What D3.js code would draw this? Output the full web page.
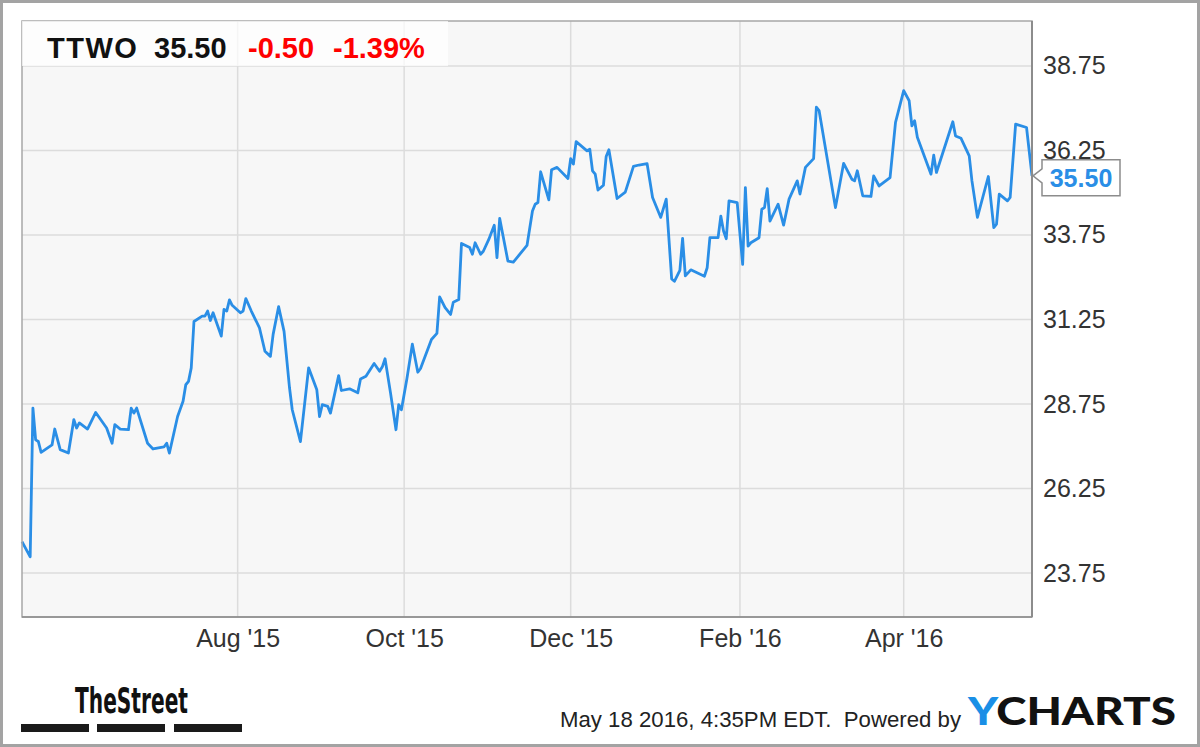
<!DOCTYPE html>
<html>
<head>
<meta charset="utf-8">
<script src="https://cdn.jsdelivr.net/npm/d3@7"></script>
<style>
  body { margin: 0; background: #fff; }
  svg { display: block; font-family: "Liberation Sans", Arial, sans-serif; }
</style>
</head>
<body>
<div id="chart"></div>
<script>
// Quote header
const ticker = "TTWO";
const lastPrice = 35.50;
const change = -0.50;
const changePct = -1.39;
const stamp = "May 18 2016, 4:35PM EDT.";

// Daily closes (turning points of the line)
const dates = [
    "2015-05-14", "2015-05-17", "2015-05-18", "2015-05-19", "2015-05-20", "2015-05-21", "2015-05-25", "2015-05-26",
    "2015-05-28", "2015-05-31", "2015-06-02", "2015-06-03", "2015-06-04", "2015-06-07", "2015-06-10", "2015-06-14",
    "2015-06-16", "2015-06-17", "2015-06-19", "2015-06-22", "2015-06-23", "2015-06-24", "2015-06-25", "2015-06-29",
    "2015-07-01", "2015-07-05", "2015-07-06", "2015-07-07", "2015-07-10", "2015-07-12", "2015-07-13", "2015-07-14",
    "2015-07-15", "2015-07-16", "2015-07-19", "2015-07-20", "2015-07-21", "2015-07-22", "2015-07-23", "2015-07-26",
    "2015-07-27", "2015-07-28", "2015-07-29", "2015-07-30", "2015-08-02", "2015-08-03", "2015-08-04", "2015-08-06",
    "2015-08-09", "2015-08-11", "2015-08-13", "2015-08-14", "2015-08-16", "2015-08-18", "2015-08-20", "2015-08-21",
    "2015-08-24", "2015-08-27", "2015-08-30", "2015-08-31", "2015-09-01", "2015-09-03", "2015-09-04", "2015-09-07",
    "2015-09-08", "2015-09-11", "2015-09-14", "2015-09-15", "2015-09-17", "2015-09-20", "2015-09-22", "2015-09-23",
    "2015-09-24", "2015-09-26", "2015-09-28", "2015-09-29", "2015-09-30", "2015-10-02", "2015-10-04", "2015-10-06",
    "2015-10-07", "2015-10-11", "2015-10-13", "2015-10-14", "2015-10-16", "2015-10-18", "2015-10-19", "2015-10-21",
    "2015-10-22", "2015-10-25", "2015-10-26", "2015-10-27", "2015-10-29", "2015-10-30", "2015-11-01", "2015-11-03",
    "2015-11-04", "2015-11-05", "2015-11-08", "2015-11-10", "2015-11-15", "2015-11-17", "2015-11-18", "2015-11-19",
    "2015-11-20", "2015-11-23", "2015-11-24", "2015-11-26", "2015-11-30", "2015-12-01", "2015-12-02", "2015-12-03",
    "2015-12-07", "2015-12-08", "2015-12-09", "2015-12-10", "2015-12-11", "2015-12-13", "2015-12-14", "2015-12-15",
    "2015-12-18", "2015-12-21", "2015-12-24", "2015-12-26", "2015-12-29", "2015-12-31", "2016-01-03", "2016-01-05",
    "2016-01-07", "2016-01-08", "2016-01-10", "2016-01-11", "2016-01-12", "2016-01-14", "2016-01-19", "2016-01-20",
    "2016-01-21", "2016-01-24", "2016-01-25", "2016-01-26", "2016-01-27", "2016-01-28", "2016-01-31", "2016-02-02",
    "2016-02-03", "2016-02-04", "2016-02-05", "2016-02-08", "2016-02-09", "2016-02-10", "2016-02-11", "2016-02-12",
    "2016-02-15", "2016-02-17", "2016-02-19", "2016-02-22", "2016-02-23", "2016-02-25", "2016-02-28", "2016-02-29",
    "2016-03-01", "2016-03-07", "2016-03-10", "2016-03-13", "2016-03-14", "2016-03-15", "2016-03-17", "2016-03-20",
    "2016-03-21", "2016-03-23", "2016-03-27", "2016-03-29", "2016-04-01", "2016-04-03", "2016-04-04", "2016-04-05",
    "2016-04-06", "2016-04-11", "2016-04-12", "2016-04-13", "2016-04-19", "2016-04-20", "2016-04-22", "2016-04-25",
    "2016-04-26", "2016-04-28", "2016-05-02", "2016-05-04", "2016-05-05", "2016-05-06", "2016-05-09", "2016-05-10",
    "2016-05-12", "2016-05-16", "2016-05-18"
];
const prices = [
    24.68, 24.23, 28.63, 27.69, 27.64, 27.32, 27.54, 28.01,
    27.40, 27.30, 28.29, 28.04, 28.19, 28.01, 28.50, 28.04,
    27.59, 28.14, 28.01, 27.99, 28.63, 28.48, 28.63, 27.59,
    27.42, 27.48, 27.59, 27.30, 28.38, 28.83, 29.32, 29.42,
    29.82, 31.19, 31.35, 31.35, 31.50, 31.22, 31.45, 30.76,
    31.55, 31.50, 31.83, 31.67, 31.45, 31.50, 31.87, 31.50,
    31.00, 30.31, 30.16, 30.81, 31.63, 30.90, 29.23, 28.58,
    27.64, 29.82, 29.17, 28.38, 28.73, 28.68, 28.48, 29.59,
    29.15, 29.20, 29.08, 29.49, 29.57, 29.95, 29.72, 29.85,
    30.09, 29.08, 27.99, 28.73, 28.58, 29.50, 30.52, 29.69,
    29.80, 30.66, 30.84, 31.92, 31.60, 31.40, 31.76, 31.84,
    33.50, 33.38, 33.18, 33.52, 33.18, 33.27, 33.62, 34.04,
    33.08, 34.24, 32.98, 32.95, 33.44, 34.46, 34.66, 34.71,
    35.62, 34.79, 35.68, 35.75, 35.42, 36.01, 35.85, 36.51,
    36.24, 36.29, 35.65, 35.55, 35.08, 35.22, 36.07, 36.27,
    34.83, 35.02, 35.78, 35.82, 35.86, 34.86, 34.27, 34.81,
    32.45, 32.38, 32.70, 33.65, 32.54, 32.72, 32.53, 32.78,
    33.67, 33.67, 34.31, 33.87, 33.64, 34.76, 34.71, 32.88,
    35.15, 33.42, 33.52, 33.67, 34.51, 34.56, 35.12, 34.16,
    34.66, 34.04, 34.81, 35.35, 34.96, 35.75, 36.01, 37.53,
    37.43, 34.56, 35.87, 35.40, 35.35, 35.65, 34.91, 34.89,
    35.50, 35.20, 35.45, 37.08, 38.02, 37.72, 36.98, 37.13,
    36.64, 35.55, 36.11, 35.60, 37.10, 36.68, 36.61, 36.09,
    35.35, 34.27, 35.48, 33.97, 34.07, 34.96, 34.76, 34.86,
    37.03, 36.93, 35.50
];

// Axis ticks
const yTicks = [23.75, 26.25, 28.75, 31.25, 33.75, 36.25, 38.75];
const xTicks = ["2015-08-01", "2015-10-01", "2015-12-01", "2016-02-01", "2016-04-01"];
const xDomain = ["2015-05-14", "2016-05-18"];
const yDomain = [22.45, 40.08];

const parseDate = d3.timeParse("%Y-%m-%d");
const data = dates.map((d, i) => ({date: parseDate(d), price: prices[i]}));

const fullW = 1200, fullH = 747;
const margin = {top: 21, right: 168, bottom: 130, left: 22},
      width = fullW - margin.left - margin.right,
      height = fullH - margin.top - margin.bottom;

const root = d3.select("#chart")
    .append("svg")
    .attr("width", fullW)
    .attr("height", fullH);

// Outer frame
root.append("rect")
    .attr("x", 1.5).attr("y", 1.5)
    .attr("width", fullW - 3).attr("height", fullH - 3)
    .attr("fill", "#fff")
    .attr("stroke", "#a3a3a3").attr("stroke-width", 3);

const svg = root.append("g")
    .attr("transform", `translate(${margin.left},${margin.top})`);

const x = d3.scaleTime()
    .domain(xDomain.map(parseDate))
    .range([0, width]);

const y = d3.scaleLinear()
    .domain(yDomain)
    .range([height, 0]);

// Plot background
svg.append("rect")
    .attr("width", width).attr("height", height)
    .attr("fill", "#f7f7f7");

// Grid lines
svg.selectAll(".hgrid")
    .data(yTicks)
    .enter()
    .append("line")
    .attr("x1", 0).attr("x2", width)
    .attr("y1", d => y(d)).attr("y2", d => y(d))
    .attr("stroke", "#dcdcdc").attr("stroke-width", 1.5);

svg.selectAll(".vgrid")
    .data(xTicks.map(parseDate))
    .enter()
    .append("line")
    .attr("x1", d => x(d)).attr("x2", d => x(d))
    .attr("y1", 0).attr("y2", height)
    .attr("stroke", "#dcdcdc").attr("stroke-width", 1.5);

// Price line
const line = d3.line()
    .x(d => x(d.date))
    .y(d => y(d.price));

svg.append("path")
    .datum(data)
    .attr("fill", "none")
    .attr("stroke", "#2a8ee6")
    .attr("stroke-width", 2.8)
    .attr("stroke-linejoin", "round")
    .attr("d", line);

// Plot border (left, top, bottom) and right axis
svg.append("rect")
    .attr("width", width).attr("height", height)
    .attr("fill", "none")
    .attr("stroke", "#a8a8a8").attr("stroke-width", 1.5);

svg.append("line")
    .attr("x1", width).attr("x2", width)
    .attr("y1", 0).attr("y2", height)
    .attr("stroke", "#8c8c8c").attr("stroke-width", 2);

svg.append("line")
    .attr("x1", 0).attr("x2", width)
    .attr("y1", height).attr("y2", height)
    .attr("stroke", "#8c8c8c").attr("stroke-width", 1.5);

// Axes
const yAxis = svg.append("g")
    .attr("transform", `translate(${width},0)`)
    .call(d3.axisRight(y).tickValues(yTicks).tickSize(0).tickPadding(11).tickFormat(d3.format(".2f")));
yAxis.select(".domain").remove();
yAxis.selectAll("text")
    .attr("fill", "#333")
    .style("font-size", "25px")
    .style("font-family", "'Liberation Sans', Arial, sans-serif");

const xAxis = svg.append("g")
    .attr("transform", `translate(0,${height})`)
    .call(d3.axisBottom(x).tickValues(xTicks.map(parseDate)).tickSize(0).tickPadding(12)
        .tickFormat(d3.timeFormat("%b '%y")));
xAxis.select(".domain").remove();
xAxis.selectAll("text")
    .attr("fill", "#333")
    .style("font-size", "25px")
    .style("font-family", "'Liberation Sans', Arial, sans-serif");

// Header with last quote
svg.append("rect")
    .attr("x", 0).attr("y", 0)
    .attr("width", 426).attr("height", 45)
    .attr("fill", "#fff").attr("fill-opacity", 0.72);

const header = [
    {text: ticker, x: 25, color: "#111", spacing: 1.5},
    {text: lastPrice.toFixed(2), x: 132, color: "#111", spacing: 0},
    {text: change.toFixed(2), x: 226, color: "#f00", spacing: 0},
    {text: changePct.toFixed(2) + "%", x: 311, color: "#f00", spacing: 0}
];
svg.selectAll(".hdr")
    .data(header)
    .enter()
    .append("text")
    .attr("x", d => d.x).attr("y", 37)
    .attr("fill", d => d.color)
    .style("font-size", "29px")
    .style("font-weight", "bold")
    .style("letter-spacing", d => d.spacing + "px")
    .text(d => d.text);

// Last value callout
const last = data[data.length - 1],
      lx = x(last.date), ly = y(last.price),
      bx = lx + 10, bw = 78, bh = 36, by = ly - 16;
svg.append("path")
    .attr("d", `M${lx + 1},${ly} L${bx},${ly - 7} L${bx},${by} L${bx + bw},${by} L${bx + bw},${by + bh} L${bx},${by + bh} L${bx},${ly + 7} Z`)
    .attr("fill", "#fff")
    .attr("stroke", "#8c8c8c").attr("stroke-width", 1.5);
svg.append("text")
    .attr("x", bx + bw / 2).attr("y", by + 27)
    .attr("text-anchor", "middle")
    .attr("fill", "#2a8ee6")
    .style("font-size", "25px")
    .style("font-weight", "bold")
    .text(last.price.toFixed(2));

// Footer: TheStreet logo
root.append("text")
    .attr("x", 75).attr("y", 713)
    .attr("textLength", 113).attr("lengthAdjust", "spacingAndGlyphs")
    .attr("fill", "#111")
    .style("font-family", "'Liberation Sans Narrow', 'DejaVu Sans Condensed', sans-serif")
    .style("font-size", "35px")
    .style("font-weight", "bold")
    .text("TheStreet");

root.selectAll(".bar")
    .data([21, 97, 174])
    .enter()
    .append("rect")
    .attr("x", d => d).attr("y", 724)
    .attr("width", 68).attr("height", 8)
    .attr("fill", "#1a1a1a");

// Footer: timestamp and YCharts credit
root.append("text")
    .attr("x", 560).attr("y", 727)
    .attr("textLength", 401).attr("lengthAdjust", "spacingAndGlyphs")
    .attr("fill", "#222")
    .style("font-size", "22px")
    .style("white-space", "pre")
    .text(stamp + "  Powered by");

const yc = root.append("text")
    .attr("x", 968).attr("y", 725)
    .attr("textLength", 208).attr("lengthAdjust", "spacingAndGlyphs")
    .style("font-family", "Lato, 'Open Sans', sans-serif")
    .style("font-size", "37px")
    .style("font-weight", "900");
yc.append("tspan").attr("fill", "#1a8fe6").text("Y");
yc.append("tspan").attr("fill", "#111").text("CHARTS");
</script>
</body>
</html>
